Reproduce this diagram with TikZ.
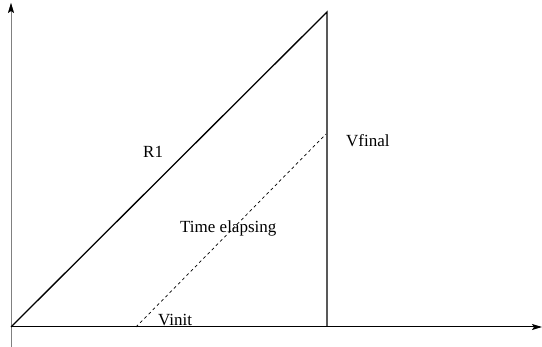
\documentclass[tikz,border=0pt]{standalone}
\usepackage{fontspec}
\setmainfont{Liberation Serif}
\usetikzlibrary{arrows.meta}
\begin{document}
\begin{tikzpicture}[x=1pt,y=-1pt,
  lbl/.style={inner sep=0pt,anchor=base west,font=\fontsize{17}{19}\selectfont},
  ax/.style={line width=1pt,-{Stealth[length=10pt,width=6pt,inset=2pt]}},
  ln/.style={line width=1.3pt}]
\useasboundingbox (0,0) rectangle (542,347);
\coordinate (O) at (11,327);
\coordinate (ytop) at (11,3);
\coordinate (ybot) at (11,347);
\coordinate (xend) at (542,327);
\coordinate (apex) at (327,12);
\coordinate (foot) at (327,327);
\coordinate (ds) at (136,327);
\coordinate (de) at (326,134);
\draw[ax,draw=gray] (ybot) -- (ytop);
\fill (ytop) -- ++(-3,10) -- ++(3,-2) -- ++(3,2) -- cycle;
\draw[ax] (O) -- (xend);
\draw[ln] (O) -- (apex) -- (foot);
\draw[line width=0.7pt,dash pattern=on 3pt off 3pt] (ds) -- (de);
\node[lbl] (r1) at (143,158) {R1};
\node[lbl] (vf) at (346,147) {Vfinal};
\node[lbl] (te) at (180,233) {Time elapsing};
\node[lbl] (vi) at (158,326) {Vinit};
\end{tikzpicture}
\end{document}
